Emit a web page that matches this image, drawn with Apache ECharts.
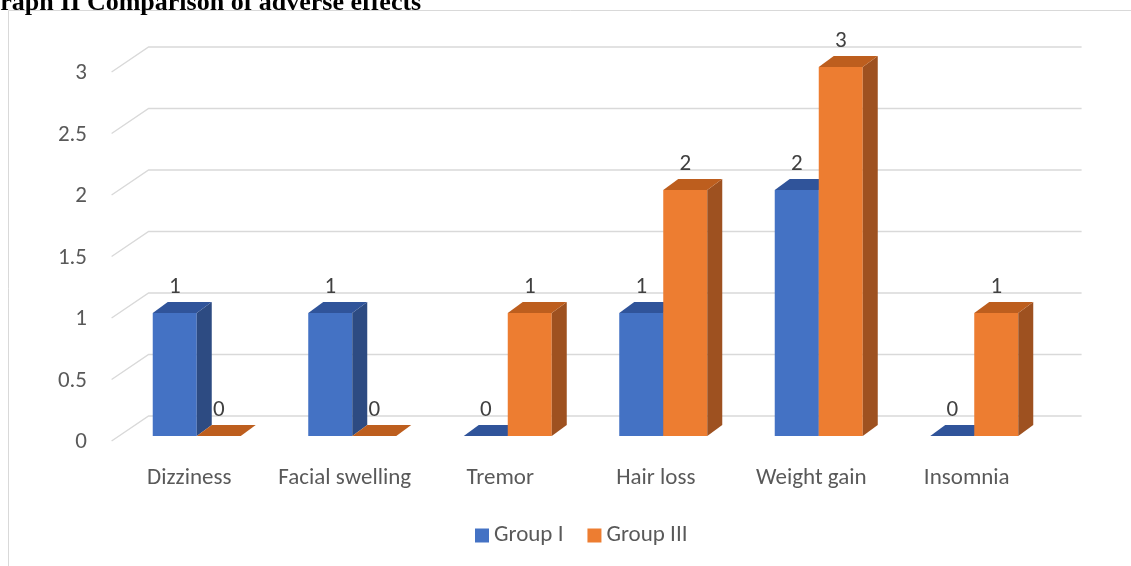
<!DOCTYPE html>
<html>
<head>
<meta charset="utf-8">
<script src="https://cdn.jsdelivr.net/npm/echarts@6/dist/echarts.min.js"></script>
<style>
  html, body { margin: 0; padding: 0; background: #fff; }
  #chartBox { width: 1131px; height: 566px; }
</style>
</head>
<body>
<div id="chartBox"></div>
<script>
// data
var categories = ['Dizziness', 'Facial swelling', 'Tremor', 'Hair loss', 'Weight gain', 'Insomnia'];
var groupI = [1, 1, 0, 1, 2, 0];
var groupIII = [0, 0, 1, 2, 3, 1];
var yTicks = [0, 0.5, 1, 1.5, 2, 2.5, 3];

var FONT = 'Carlito, Lato, sans-serif';
var FS = 23;
// floor depth (front edge -> back wall) and where the bar fronts sit in it
var floorDx = 37, floorDy = -25, barFront = 0.2;
var barDx = 15, barDy = -11;

function toPairs(arr) {
  return arr.map(function (v, i) { return [i, v]; });
}

// back wall grid lines + left wall diagonals
function renderGrid(params, api) {
  var v = api.value(1);
  var band = api.size([1, 0])[0];
  var p0 = api.coord([0, v]);
  var p1 = api.coord([categories.length - 1, v]);
  var left = p0[0] - band / 2, right = p1[0] + band / 2, y = p0[1];
  var bx = floorDx * (1 - barFront), by = floorDy * (1 - barFront);
  var fx = -floorDx * barFront, fy = -floorDy * barFront;
  return {
    type: 'polyline',
    shape: { points: [[left + fx, y + fy], [left + bx, y + by], [right + bx, y + by]] },
    style: { stroke: '#d9d9d9', lineWidth: 1.4, fill: null },
    silent: true
  };
}

function makeBar(slot, front, side, topC) {
  return function (params, api) {
    var c = api.value(0), v = api.value(1);
    var band = api.size([1, 0])[0];
    var w = band * 0.283;
    var t = api.coord([c, v]);
    var b = api.coord([c, 0]);
    var x0 = t[0] + (slot === 0 ? -w : 0), x1 = x0 + w;
    var yT = t[1], yB = b[1];
    return {
      type: 'group',
      children: [
        { type: 'polygon', shape: { points: [[x0, yB], [x1, yB], [x1, yT], [x0, yT]] }, style: { fill: front } },
        { type: 'polygon', shape: { points: [[x1, yB], [x1 + barDx, yB + barDy], [x1 + barDx, yT + barDy], [x1, yT]] }, style: { fill: side } },
        { type: 'polygon', shape: { points: [[x0, yT], [x1, yT], [x1 + barDx, yT + barDy], [x0 + barDx, yT + barDy]] }, style: { fill: topC } },
        { type: 'text', x: x0 + w / 2, y: yT - 26, style: { text: String(v), fill: '#404040', font: FS + 'px ' + FONT, textAlign: 'center', textVerticalAlign: 'middle' } }
      ]
    };
  };
}

var chart = echarts.init(document.getElementById('chartBox'));
var option = {
  animation: false,
  textStyle: { fontFamily: FONT },
  graphic: [
    { type: 'rect', shape: { x: 8.5, y: 10.5, width: 1150, height: 600 }, style: { fill: null, stroke: '#d9d9d9', lineWidth: 1 }, silent: true },
    { type: 'text', left: -20, top: -10, style: { text: 'Graph II Comparison of adverse effects', font: 'bold 26px "Liberation Serif", "Times New Roman", serif', fill: '#000' } }
  ],
  grid: { left: 119, right: 79, top: 67, bottom: 130 },
  xAxis: {
    type: 'category',
    data: categories,
    axisLine: { show: false },
    axisTick: { show: false },
    splitLine: { show: false },
    axisLabel: { color: '#595959', fontSize: FS, fontFamily: FONT, margin: 31, padding: [0, 15, 0, 0], interval: 0 }
  },
  yAxis: {
    type: 'value',
    min: 0,
    max: 3,
    interval: 0.5,
    axisLine: { show: false },
    axisTick: { show: false },
    splitLine: { show: false },
    axisLabel: { color: '#595959', fontSize: FS, fontFamily: FONT, margin: 32, verticalAlign: 'top', lineHeight: 13 }
  },
  legend: {
    bottom: 14,
    left: 470,
    itemWidth: 14,
    itemHeight: 14,
    itemGap: 24,
    icon: 'rect',
    textStyle: { color: '#595959', fontSize: FS, fontFamily: FONT },
    data: ['Group I', 'Group III']
  },
  series: [
    {
      type: 'custom', name: 'grid', renderItem: renderGrid, silent: true,
      data: yTicks.map(function (v) { return [0, v]; }), encode: { x: 0, y: 1 }
    },
    {
      type: 'custom', name: 'Group I', renderItem: makeBar(0, '#4472c4', '#2d4b82', '#30549a'),
      itemStyle: { color: '#4472c4' },
      data: toPairs(groupI), encode: { x: 0, y: 1 }
    },
    {
      type: 'custom', name: 'Group III', renderItem: makeBar(1, '#ed7d31', '#9e5120', '#bd5e1e'),
      itemStyle: { color: '#ed7d31' },
      data: toPairs(groupIII), encode: { x: 0, y: 1 }
    }
  ]
};
chart.setOption(option);
</script>
</body>
</html>
